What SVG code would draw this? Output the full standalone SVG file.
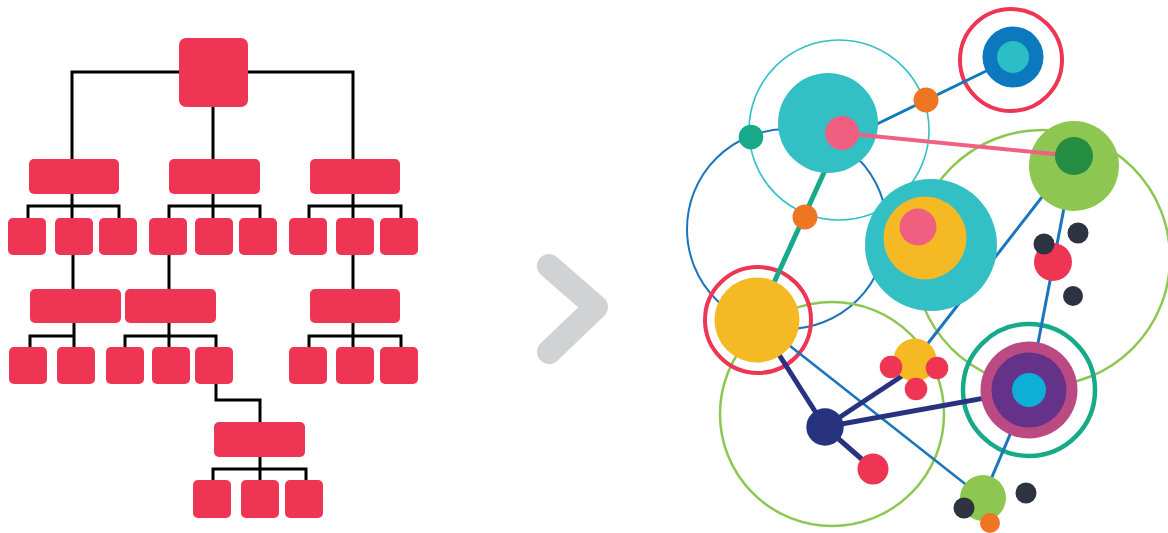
<svg xmlns="http://www.w3.org/2000/svg" width="1168" height="533" viewBox="0 0 1168 533">
<style>
.box{fill:#EE3553}
.wire{fill:none;stroke:#000;stroke-width:3;stroke-linejoin:miter;stroke-linecap:butt}
.ring{fill:none}
.ln{fill:none;stroke-linecap:butt}
</style>
<rect width="1168" height="533" fill="#fff"/>
<g id="org-connectors">
<path class="wire" d="M72,159V72H353V159M213,107V159"/>
<path class="wire" d="M72,194V218M28,218V206H119V218"/>
<path class="wire" d="M213,194V218M169,218V206H260V218"/>
<path class="wire" d="M353,194V218M309,218V206H401V218"/>
<path class="wire" d="M73,255V289M169,255V289M353,255V289"/>
<path class="wire" d="M74,323V347M30,347V336H74"/>
<path class="wire" d="M169,323V347M125,347V336H216V347"/>
<path class="wire" d="M353,323V347M309,347V336H401V347"/>
<path class="wire" d="M216,384V400H260V422"/>
<path class="wire" d="M260,457V480M213,480V469H306V480"/>
</g>
<g id="org-root"><rect class="box" x="179" y="38" width="69" height="69" rx="7"/></g>
<g id="org-l2-a"><rect class="box" x="29" y="159" width="90" height="35" rx="5"/></g>
<g id="org-l2-b"><rect class="box" x="169" y="159" width="91" height="35" rx="5"/></g>
<g id="org-l2-c"><rect class="box" x="310" y="159" width="90" height="35" rx="5"/></g>
<g id="org-l3-1"><rect class="box" x="8" y="218" width="38" height="37" rx="5"/></g>
<g id="org-l3-2"><rect class="box" x="55" y="218" width="38" height="37" rx="5"/></g>
<g id="org-l3-3"><rect class="box" x="99" y="218" width="38" height="37" rx="5"/></g>
<g id="org-l3-4"><rect class="box" x="149" y="218" width="38" height="37" rx="5"/></g>
<g id="org-l3-5"><rect class="box" x="195" y="218" width="38" height="37" rx="5"/></g>
<g id="org-l3-6"><rect class="box" x="239" y="218" width="38" height="37" rx="5"/></g>
<g id="org-l3-7"><rect class="box" x="289" y="218" width="38" height="37" rx="5"/></g>
<g id="org-l3-8"><rect class="box" x="336" y="218" width="38" height="37" rx="5"/></g>
<g id="org-l3-9"><rect class="box" x="380" y="218" width="38" height="37" rx="5"/></g>
<g id="org-l4-a"><rect class="box" x="30" y="289" width="91" height="34" rx="5"/></g>
<g id="org-l4-b"><rect class="box" x="125" y="289" width="91" height="34" rx="5"/></g>
<g id="org-l4-c"><rect class="box" x="310" y="289" width="90" height="34" rx="5"/></g>
<g id="org-l5-1"><rect class="box" x="9" y="347" width="38" height="37" rx="5"/></g>
<g id="org-l5-2"><rect class="box" x="57" y="347" width="38" height="37" rx="5"/></g>
<g id="org-l5-3"><rect class="box" x="106" y="347" width="38" height="37" rx="5"/></g>
<g id="org-l5-4"><rect class="box" x="152" y="347" width="38" height="37" rx="5"/></g>
<g id="org-l5-5"><rect class="box" x="195" y="347" width="38" height="37" rx="5"/></g>
<g id="org-l5-6"><rect class="box" x="289" y="347" width="38" height="37" rx="5"/></g>
<g id="org-l5-7"><rect class="box" x="336" y="347" width="38" height="37" rx="5"/></g>
<g id="org-l5-8"><rect class="box" x="380" y="347" width="38" height="37" rx="5"/></g>
<g id="org-l6"><rect class="box" x="214" y="422" width="91" height="35" rx="5"/></g>
<g id="org-l7-1"><rect class="box" x="193" y="480" width="38" height="38" rx="5"/></g>
<g id="org-l7-2"><rect class="box" x="241" y="480" width="38" height="38" rx="5"/></g>
<g id="org-l7-3"><rect class="box" x="285" y="480" width="38" height="38" rx="5"/></g>

<g id="chevron"><polyline points="549,266 596,307 549,352" fill="none" stroke="#D1D2D4" stroke-width="24" stroke-linecap="round" stroke-linejoin="round"/></g>

<g id="rings">
<circle class="ring" cx="787" cy="229" r="100" stroke="#1A75BC" stroke-width="2"/>
<circle class="ring" cx="839" cy="130" r="90" stroke="#33C0C5" stroke-width="1.6"/>
<circle class="ring" cx="1042" cy="258" r="128" stroke="#8DC751" stroke-width="2.5"/>
<circle class="ring" cx="832" cy="414" r="112" stroke="#8DC751" stroke-width="2.5"/>
<circle class="ring" cx="1011" cy="60" r="51" stroke="#EE3553" stroke-width="4"/>
<circle class="ring" cx="758" cy="320" r="53" stroke="#EE3553" stroke-width="4"/>
<circle class="ring" cx="1029" cy="390" r="66" stroke="#18A98A" stroke-width="4.5"/>
</g>

<g id="connectors">
<line class="ln" x1="842" y1="141" x2="1013" y2="58" stroke="#0C78BE" stroke-width="3"/>
<line class="ln" x1="842" y1="133" x2="757" y2="320" stroke="#18A98A" stroke-width="5"/>
<line class="ln" x1="1074" y1="156" x2="915" y2="360" stroke="#1A75BC" stroke-width="3"/>
<line class="ln" x1="1074" y1="156" x2="1029" y2="390" stroke="#1A75BC" stroke-width="3"/>
<line class="ln" x1="1029" y1="390" x2="983" y2="498" stroke="#1A75BC" stroke-width="3"/>
<line class="ln" x1="757" y1="320" x2="983" y2="498" stroke="#1A75BC" stroke-width="2.5"/>
<line class="ln" x1="825" y1="427" x2="757" y2="320" stroke="#283380" stroke-width="5"/>
<line class="ln" x1="825" y1="427" x2="905" y2="374" stroke="#283380" stroke-width="5"/>
<line class="ln" x1="825" y1="427" x2="1029" y2="390" stroke="#283380" stroke-width="5"/>
<line class="ln" x1="825" y1="427" x2="873" y2="469" stroke="#283380" stroke-width="5"/>
</g>

<g id="n-top-blue"><circle cx="1013" cy="57" r="30.5" fill="#0C78BE"/><circle cx="1013" cy="57" r="16" fill="#2BBEC4"/></g>
<g id="n-orange-1"><circle cx="926" cy="100" r="12.5" fill="#EE7623"/></g>
<g id="n-teal"><circle cx="828" cy="123" r="50" fill="#33C0C5"/></g>
<g id="n-green-dot"><circle cx="751" cy="137" r="12.3" fill="#18A98A"/></g>
<g id="n-orange-2"><circle cx="805" cy="217" r="12.5" fill="#EE7623"/></g>
<g id="n-big-teal"><circle cx="931" cy="245" r="66" fill="#33C0C5"/><circle cx="925" cy="238" r="41.5" fill="#F4B923"/><circle cx="918" cy="227" r="18.5" fill="#F05F80"/></g>
<g id="n-green"><circle cx="1074" cy="166" r="45" fill="#8DC751"/></g>
<g id="n-red-right"><circle cx="1053" cy="262" r="19" fill="#EE3553"/></g>
<g id="n-dark-1"><circle cx="1044" cy="244" r="10.5" fill="#2D3341"/></g>
<g id="n-dark-2"><circle cx="1078" cy="233" r="10.5" fill="#2D3341"/></g>
<g id="n-dark-3"><circle cx="1073" cy="296" r="10" fill="#2D3341"/></g>
<g id="n-yellow"><circle cx="757" cy="320" r="42.5" fill="#F4B923"/></g>
<g id="n-small-yellow"><circle cx="915" cy="360" r="21.5" fill="#F4B923"/><circle cx="891" cy="367" r="11.3" fill="#EE3553"/><circle cx="937" cy="368" r="11.3" fill="#EE3553"/><circle cx="916" cy="389" r="11.3" fill="#EE3553"/></g>
<g id="n-purple"><circle cx="1029" cy="390" r="48.5" fill="#BB4A83"/><circle cx="1029" cy="390" r="37.5" fill="#643289"/><circle cx="1029" cy="390" r="17" fill="#0DAFD6"/></g>
<g id="n-navy"><circle cx="825" cy="427" r="18.7" fill="#283380"/></g>
<g id="n-red-bottom"><circle cx="873" cy="469" r="15.5" fill="#EE3553"/></g>
<g id="n-small-green"><circle cx="983" cy="498" r="23" fill="#8DC751"/><circle cx="990" cy="523" r="10" fill="#EE7623"/><circle cx="964" cy="508" r="10.5" fill="#2D3341"/></g>
<g id="n-dark-4"><circle cx="1026" cy="493" r="10.5" fill="#2D3341"/></g>

<g id="connectors-top">
<line class="ln" x1="842" y1="133" x2="1074" y2="156" stroke="#F06081" stroke-width="4"/>
</g>
<g id="n-pink"><circle cx="842" cy="133" r="17" fill="#F05F80"/></g>
<g id="n-dark-green"><circle cx="1074" cy="156" r="19" fill="#248D42"/></g>
</svg>
